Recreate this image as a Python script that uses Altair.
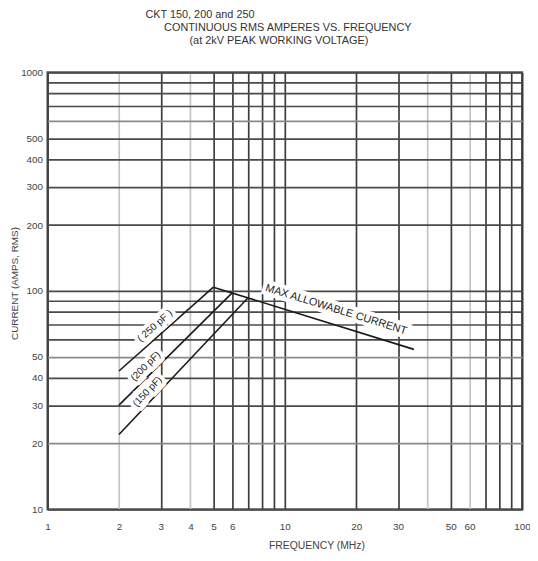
import math
import altair as alt
import pandas as pd

# ---- data ----
freq_250 = [2, 5]
cur_250 = [43, 104]
freq_200 = [2, 6]
cur_200 = [30, 98]
freq_150 = [2, 7]
cur_150 = [22, 93]
max_freq = [5, 35]
max_cur = [104, 54]

series_names = ["250 pF", "200 pF", "150 pF", "max"]
label_texts = ["( 250 pF )", "(200 pF)", "(150 pF)", "MAX ALLOWABLE CURRENT"]

x_grid = [1, 2, 3, 4, 5, 6, 7, 8, 9, 10, 20, 30, 40, 50, 60, 70, 80, 90, 100]
x_labels = [1, 2, 3, 4, 5, 6, 10, 20, 30, 50, 60, 100]
y_grid = [10, 20, 30, 40, 50, 60, 70, 80, 90, 100, 200, 300, 400, 500, 600, 700, 800, 900, 1000]
y_labels = [10, 20, 30, 40, 50, 100, 200, 300, 400, 500, 1000]

title_lines = ["CKT 150, 200 and 250",
               "CONTINUOUS RMS AMPERES VS. FREQUENCY",
               "(at 2kV PEAK WORKING VOLTAGE)"]

W, H = 480, 442
XD, YD = (1, 100), (10, 1000)
FONT = "Liberation Sans"


def px(v):
    return W * (math.log10(v) - math.log10(XD[0])) / (math.log10(XD[1]) - math.log10(XD[0]))


def py(v):
    return H * (math.log10(YD[1]) - math.log10(v)) / (math.log10(YD[1]) - math.log10(YD[0]))


series = [(freq_250, cur_250), (freq_200, cur_200), (freq_150, cur_150), (max_freq, max_cur)]
rows = []
for name, (fx, cy) in zip(series_names, series):
    for a, b in zip(fx, cy):
        rows.append({"series": name, "f": a, "i": b})
lines_df = pd.DataFrame(rows)

# label anchors along each line (fraction in log space), offsets and sizes
fracs = [0.45, 0.29, 0.27, 0.59]
offs = [-10, -9, -9, -15]
sizes = [10, 10, 10, 11]
lab_rows = []
for (fx, cy), txt, fr, off, sz in zip(series, label_texts, fracs, offs, sizes):
    lx = math.exp(math.log(fx[0]) + fr * (math.log(fx[1]) - math.log(fx[0])))
    ly = math.exp(math.log(cy[0]) + fr * (math.log(cy[1]) - math.log(cy[0])))
    ang = math.degrees(math.atan2(py(cy[1]) - py(cy[0]), px(fx[1]) - px(fx[0]))) % 360
    lab_rows.append({"f": lx, "i": ly, "t": txt, "a": ang, "off": off, "sz": sz})
lab_df = pd.DataFrame(lab_rows)

xs = alt.Scale(type="log", domain=list(XD), nice=False)
ys = alt.Scale(type="log", domain=list(YD), nice=False)

x_axis = alt.Axis(
    values=x_grid, title="FREQUENCY (MHz)", grid=True, domain=False, ticks=False,
    labelExpr="indexof(%s, datum.value) >= 0 ? format(datum.value, 'd') : ''" % x_labels,
    labelFont=FONT, labelFontSize=10, labelColor="#444", labelPadding=12,
    labelFlush=False, labelOverlap=False,
    titleFont=FONT, titleFontSize=10.5, titleFontWeight="normal", titleColor="#444",
    titleX=272, titleY=37, titleAlign="center", titleBaseline="middle",
    gridColor={"condition": {"test": "indexof([2,4,40,60], datum.value) >= 0", "value": "#c4c4c4"},
               "value": "#3c3c3c"},
    gridWidth=1.7,
)
y_axis = alt.Axis(
    values=y_grid, title="CURRENT (AMPS, RMS)", grid=True, domain=False, ticks=False,
    labelExpr="indexof(%s, datum.value) >= 0 ? format(datum.value, 'd') : ''" % y_labels,
    labelFont=FONT, labelFontSize=10, labelColor="#444", labelPadding=5,
    labelFlush=False, labelOverlap=False,
    titleFont=FONT, titleFontSize=10, titleFontWeight="normal", titleColor="#444",
    titleX=-33, titleY=H / 2 - 8, titleAngle=270, titleAlign="center", titleBaseline="middle",
    gridColor={"condition": {"test": "indexof([20,50,600], datum.value) >= 0", "value": "#8a8a8a"},
               "value": "#4a4a4a"},
    gridWidth=1.7,
)

lines = alt.Chart(lines_df).mark_line(color="#1a1a1a", strokeWidth=1.6).encode(
    x=alt.X("f:Q", scale=xs, axis=x_axis),
    y=alt.Y("i:Q", scale=ys, axis=y_axis),
    detail="series:N",
)

layers = [lines]
for d in sorted(set(offs)):
    sub = alt.Chart(lab_df).transform_filter(alt.datum.off == d)
    enc = dict(x=alt.X("f:Q", scale=xs), y=alt.Y("i:Q", scale=ys),
               text="t:N", angle=alt.Angle("a:Q", scale=None),
               size=alt.Size("sz:Q", scale=None, legend=None))
    layers.append(sub.mark_text(
        font=FONT, stroke="white", strokeWidth=8, fill="white",
        align="center", baseline="middle", dy=d).encode(**enc))
    layers.append(sub.mark_text(
        font=FONT, color="#222", align="center", baseline="middle",
        dy=d).encode(**enc))

title_pos = [(99, -58, "left"), (243, -45, "center"), (234, -32, "center")]
for txt, (tx, ty, al) in zip(title_lines, title_pos):
    layers.append(alt.Chart(pd.DataFrame({"t": [txt]})).mark_text(
        font=FONT, fontSize=11, color="#333", align=al, baseline="middle",
    ).encode(x=alt.value(tx), y=alt.value(ty), text="t:N"))

chart = alt.layer(*layers).properties(
    width=W, height=H,
    background="white",
    autosize=alt.AutoSizeParams(type="none"),
    padding={"left": 40, "top": 62, "right": 8, "bottom": 45},
).configure_view(stroke="#555", strokeWidth=2.2)

chart.save("out.html", embed_options={"renderer": "svg", "actions": False})
